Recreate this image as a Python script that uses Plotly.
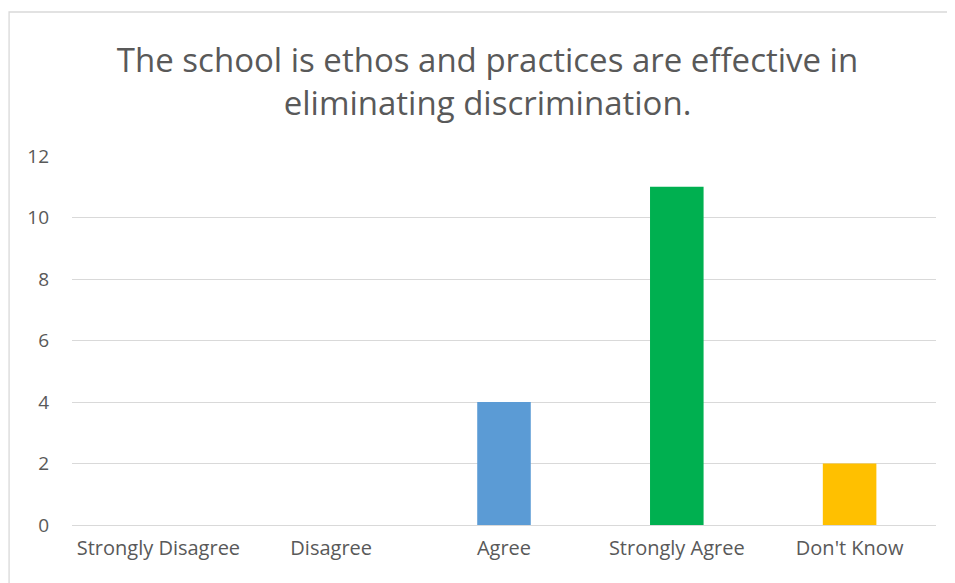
import plotly.graph_objects as go

categories = ["Strongly Disagree", "Disagree", "Agree", "Strongly Agree", "Don't Know"]
values = [0, 0, 4, 11, 2]
colors = ["#5B9BD5", "#5B9BD5", "#5B9BD5", "#00B050", "#FFC000"]
y_ticks = [0, 2, 4, 6, 8, 10, 12]

OFF = 8  # page body margin
W, H = 955 - OFF, 583 - OFF
L, R, T, B = 71.5 - OFF, 936.5 - OFF, 156 - OFF, 525 - OFF

fig = go.Figure(go.Bar(x=categories, y=values, marker=dict(color=colors, line=dict(width=0)), width=0.31))

def px2x(p):
    return (p - L) / (R - L)

def py2y(p):
    return (B - p) / (B - T)

fig.update_layout(
    width=W, height=H,
    margin=dict(l=L, r=W - R, t=T, b=H - B),
    paper_bgcolor="white", plot_bgcolor="white",
    showlegend=False,
    font=dict(family="Open Sans", color="#595959"),
    title=dict(
        text="The school is ethos and practices are effective in<br>eliminating discrimination.",
        x=px2x(487.5 - OFF), xanchor="center", xref="paper",
        y=1 - (72 - OFF) / H, yanchor="middle",
        font=dict(size=33, color="#595959", family="Open Sans"),
    ),
    xaxis=dict(showgrid=False, showline=False, ticks="", tickfont=dict(size=20, color="#595959"),
               ticklabelstandoff=9, fixedrange=True),
    yaxis=dict(range=[0, 12], tickvals=y_ticks, showgrid=True, gridcolor="#D9D9D9", gridwidth=1.3,
               zeroline=True, zerolinecolor="#D9D9D9", zerolinewidth=1.3, showline=False,
               tickfont=dict(size=19, color="#595959"), ticks="", ticklabelstandoff=22),
    shapes=[dict(type="rect", xref="paper", yref="paper",
                 x0=px2x(7 - OFF + 1.5), x1=px2x(962), y0=py2y(600), y1=py2y(10 - OFF + 2),
                 line=dict(color="#D9D9D9", width=1.3), layer="below")],
)

fig.write_html("out.html")
